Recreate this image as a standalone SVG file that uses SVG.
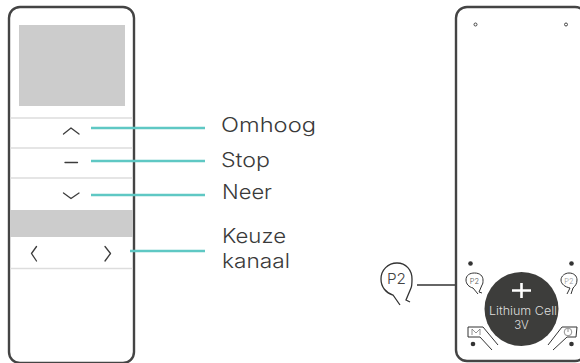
<svg xmlns="http://www.w3.org/2000/svg" width="580" height="363" viewBox="0 0 580 363">
<style>
.body{fill:#fff;stroke:#444;stroke-width:2.4}
.sep{stroke:#ddd;stroke-width:1.4;fill:none}
.gray{fill:#ccc}
.ic{fill:none;stroke:#3c3c3c;stroke-width:1.3;stroke-linecap:round;stroke-linejoin:round}
.ln{fill:none;stroke:#333;stroke-width:1}
.t{stroke:#5fc8c4;stroke-width:2.400;fill:none}
.lab{font-family:Inter,"Liberation Sans",sans-serif;font-size:20px;font-weight:300;fill:#3a3a3a}
.p{font-family:Inter,"Liberation Sans",sans-serif;font-weight:300;text-anchor:middle}
.w{font-family:Inter,"Liberation Sans",sans-serif;font-size:11.500px;font-weight:300;fill:#ddd;text-anchor:middle}
.dot{fill:#333}
</style>
<g id="remote-front">
<rect class="body" x="9" y="7" width="125" height="356" rx="11"/>
<rect class="gray" x="19" y="25" width="106" height="81"/>
<path class="sep" d="M10 118H133M10 148H133M10 178H133"/>
<rect class="gray" x="10" y="210" width="123" height="27"/>
<path class="sep" d="M10 268.500H133"/>
<path class="ic" d="M63.500 134L71 128L79 134"/>
<path class="ic" d="M65 162.500H77.500"/>
<path class="ic" d="M63.500 193L71 198.500L79 193"/>
<path class="ic" d="M36.500 246.500L31.500 253.500L36.500 261"/>
<path class="ic" d="M105 246.500L110.500 253.500L105 261"/>
</g>
<g id="connectors">
<path class="t" d="M91 128H205M91 161H205M91 195H205M130 251H205"/>
<path class="ln" style="stroke-width:1.500" d="M417 285H461"/>
</g>
<g id="labels">
<text class="lab" x="221" y="132" textLength="95" lengthAdjust="spacingAndGlyphs">Omhoog</text>
<text class="lab" x="221" y="167" textLength="49" lengthAdjust="spacingAndGlyphs">Stop</text>
<text class="lab" x="222" y="199" textLength="50" lengthAdjust="spacingAndGlyphs">Neer</text>
<text class="lab" x="222" y="243" textLength="64" lengthAdjust="spacingAndGlyphs">Keuze</text>
<text class="lab" x="222" y="268" textLength="68" lengthAdjust="spacingAndGlyphs">kanaal</text>
</g>
<g id="p2-callout">
<path class="ln" style="stroke-width:1.300" d="M400 305L393 295C386 293 381 287 381 279C381 270 388 263 397 263C406 263 412 270 412 279C412 283 412 286 411 288L406 300L410 302"/>
<text class="p" x="396.500" y="283.500" font-size="15" fill="#444" textLength="19" lengthAdjust="spacingAndGlyphs">P2</text>
</g>
<g id="remote-back">
<rect class="body" x="456" y="7" width="130" height="354" rx="11"/>
<circle cx="475.500" cy="24.500" r="1.500" fill="#fff" stroke="#444"/>
<circle cx="566" cy="24.500" r="1.500" fill="#fff" stroke="#444"/>
<circle class="dot" cx="470.500" cy="263.500" r="2.300"/>
<circle class="dot" cx="571.500" cy="263.500" r="2.300"/>
<circle class="dot" cx="473" cy="344" r="2.300"/>
<circle class="dot" cx="571.500" cy="344" r="2.300"/>
<path class="ln" d="M478 294L473 288C469 287 466 284 466 280C466 275 470 273 474.500 273C480 273 483 276 483 280C483 282 483 284 482 285L479 292L482 293"/>
<text class="p" x="474.500" y="284" font-size="7.500" fill="#555">P2</text>
<path class="ln" d="M567 294L570 288C565 287 561 284 561 280C561 276 565 273 569 273C574 273 577 276 577 280C577 284 575 286 573 288L571 294"/>
<text class="p" x="569" y="284" font-size="7.500" fill="#999">P2</text>
<circle cx="521.500" cy="309" r="37" fill="#3d3d3b"/>
<path d="M521.500 283V298M512 290.500H531" stroke="#fff" stroke-width="2.600"/>
<text class="w" x="523" y="315" textLength="68" lengthAdjust="spacingAndGlyphs">Lithium Cell</text>
<text class="w" x="521.500" y="329">3V</text>
<path class="ln" d="M498 345L483 327H468V337H480L492 350"/>
<path d="M472 335V329L476 333L480 329V335" fill="none" stroke="#777" stroke-width="0.800"/>
<path class="ln" d="M548 345L562 327H577L576 337H567L553 350"/>
<circle cx="568" cy="332" r="3.800" fill="none" stroke="#777" stroke-width="0.800"/>
<path d="M568 329V332" fill="none" stroke="#777" stroke-width="0.800"/>
</g>
</svg>
